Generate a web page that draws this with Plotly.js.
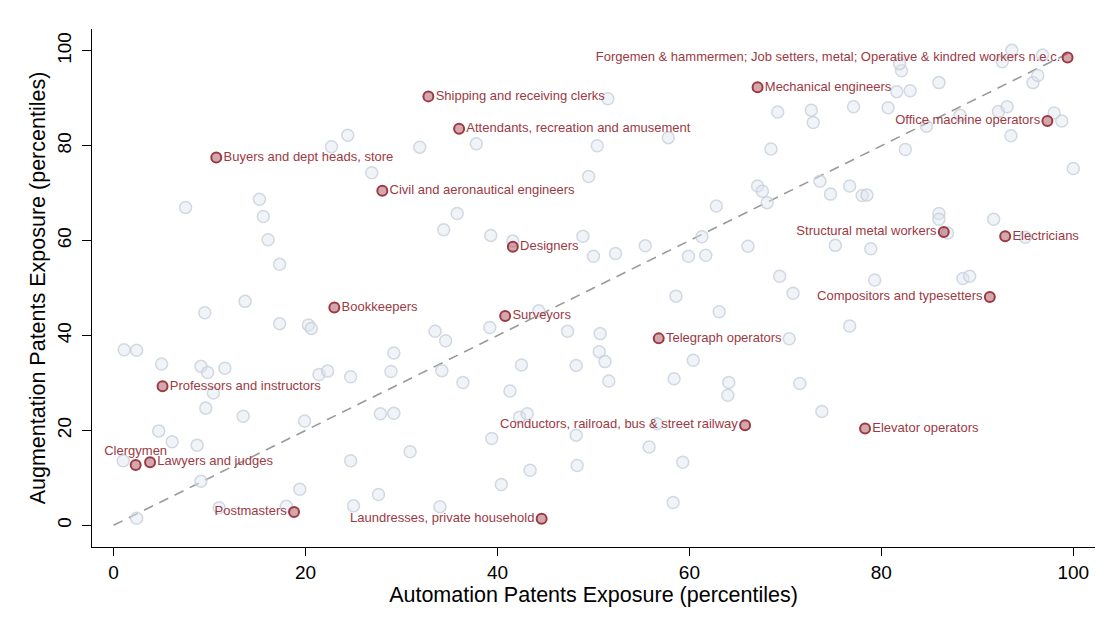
<!DOCTYPE html>
<html>
<head>
<meta charset="utf-8">
<script src="https://cdn.plot.ly/plotly-3.0.1.min.js"></script>
<style>html,body{margin:0;padding:0;background:#fff;}#chart{width:1109px;height:628px;}</style>
</head>
<body>
<div id="chart"></div>
<script>
// Background occupations (grey points)
const greyX = [7.5,15.2,15.6,16.1,17.3,22.7,24.4,26.9,51.5,31.9,37.8,50.4,57.8,49.5,35.8,34.4,39.3,41.6,48.9,50.0,52.3,55.4,59.9,61.7,61.3,62.8,66.1,69.2,68.5,67.1,67.6,68.1,72.7,72.9,77.1,80.7,81.6,83.0,82.1,81.9,86.0,73.6,76.7,74.7,78.0,78.5,82.5,84.7,88.2,92.2,93.1,93.5,98.0,98.8,93.6,92.6,96.8,95.8,96.3,100.0,86.9,86.0,86.0,91.7,95.0,75.2,78.9,69.4,79.3,88.5,89.2,70.8,76.7,70.4,71.5,73.8,58.6,63.1,44.3,33.5,34.6,39.2,47.3,50.7,29.2,28.9,34.2,36.4,42.5,48.2,50.6,51.2,51.6,60.4,58.4,64.1,64.0,41.3,27.8,29.2,42.3,43.1,56.6,48.2,39.4,55.8,30.9,59.3,43.4,48.3,40.4,58.3,34.0,27.6,1.1,2.4,5.0,9.1,9.8,11.6,9.5,13.7,17.3,20.3,20.6,21.4,22.3,24.7,10.4,9.6,13.5,4.7,6.1,8.7,19.9,1.0,9.1,24.7,19.4,11.0,18.0,2.4,25.0];
const greyY = [67.0,68.7,65.1,60.2,55.0,79.8,82.2,74.3,89.9,79.7,80.4,80.0,81.7,73.5,65.7,62.3,61.1,59.9,60.9,56.7,57.3,58.9,56.7,56.9,60.8,67.3,58.8,87.1,79.3,71.5,70.4,68.0,87.5,84.9,88.2,88.0,91.4,91.6,95.8,97.3,93.3,72.5,71.5,69.8,69.5,69.6,79.2,84.1,86.4,87.2,88.2,82.1,86.9,85.2,100.1,97.7,99.1,93.3,94.8,75.2,61.6,65.7,64.5,64.5,60.7,59.0,58.3,52.5,51.7,52.0,52.5,48.9,42.0,39.3,29.9,24.0,48.3,45.0,45.2,40.9,38.9,41.7,40.9,40.4,36.3,32.4,32.6,30.1,33.8,33.7,36.6,34.5,30.4,34.8,30.9,30.1,27.4,28.3,23.5,23.6,22.8,23.5,21.4,19.0,18.3,16.5,15.5,13.3,11.6,12.6,8.6,4.8,3.9,6.5,37.0,36.9,34.0,33.5,32.2,33.1,44.8,47.2,42.5,42.2,41.5,31.8,32.5,31.3,27.9,24.7,23.0,19.9,17.6,16.9,22.0,13.6,9.3,13.6,7.6,3.7,4.0,1.5,4.1];

// Highlighted occupations
const labNames = [
  "Forgemen & hammermen; Job setters, metal; Operative & kindred workers n.e.c.",
  "Mechanical engineers",
  "Shipping and receiving clerks",
  "Attendants, recreation and amusement",
  "Office machine operators",
  "Buyers and dept heads, store",
  "Civil and aeronautical engineers",
  "Structural metal workers",
  "Electricians",
  "Designers",
  "Compositors and typesetters",
  "Bookkeepers",
  "Surveyors",
  "Telegraph operators",
  "Professors and instructors",
  "Conductors, railroad, bus & street railway",
  "Elevator operators",
  "Clergymen",
  "Lawyers and judges",
  "Postmasters",
  "Laundresses, private household"
];
const labX = [99.4,67.1,32.8,36.0,97.3,10.7,28.0,86.5,92.9,41.6,91.3,23.0,40.8,56.8,5.1,65.8,78.3,2.3,3.8,18.8,44.6];
const labY = [98.6,92.3,90.4,83.6,85.2,77.5,70.5,61.8,60.9,58.7,48.1,45.9,44.1,39.4,29.3,21.1,20.4,12.7,13.3,2.8,1.4];
const labPos = ["middle left","middle right","middle right","middle right","middle left","middle right","middle right","middle left","middle right","middle right","middle left","middle right","middle right","middle right","middle right","middle left","middle right","top center","middle right","middle left","middle left"];

const diagX = [0, 100];
const diagY = [0, 100];

const tickVals = [0, 20, 40, 60, 80, 100];

const font = "Liberation Sans, Arial, Helvetica, sans-serif";
const red = "#9c3a44";

const traces = [
  {
    x: diagX, y: diagY, type: "scatter", mode: "lines",
    line: {color: "#9a9a9a", width: 1.6, dash: "10px,7px"},
    hoverinfo: "skip", showlegend: false
  },
  {
    x: greyX, y: greyY, type: "scatter", mode: "markers",
    marker: {size: 12, color: "rgba(222,229,237,0.45)", line: {color: "rgba(196,206,218,0.75)", width: 1.5}},
    showlegend: false
  },
  {
    x: labX, y: labY, text: labNames, type: "scatter", mode: "markers+text",
    textposition: labPos,
    textfont: {family: font, size: 13, color: red},
    marker: {size: 10, color: "rgba(160,60,72,0.45)", line: {color: red, width: 2}},
    showlegend: false, cliponaxis: false
  }
];

const layout = {
  width: 1109, height: 628,
  margin: {l: 92, r: 14, t: 29, b: 81},
  paper_bgcolor: "#ffffff", plot_bgcolor: "#ffffff",
  font: {family: font, color: "#000"},
  showlegend: false,
  xaxis: {
    range: [-2.25, 102.26], tickvals: tickVals, ticktext: tickVals.map(String),
    showgrid: false, zeroline: false, showline: true, linecolor: "#000", linewidth: 1,
    ticks: "outside", ticklen: 8, tickcolor: "#000", tickwidth: 1,
    tickfont: {family: font, size: 19, color: "#000"},
    title: {text: "Automation Patents Exposure (percentiles)", font: {family: font, size: 21.5, color: "#000"}, standoff: 3},
    automargin: false
  },
  yaxis: {
    range: [-4.57, 104.6], tickvals: tickVals, ticktext: tickVals.map(String),
    tickangle: -90, ticklabelstandoff: 3,
    showgrid: false, zeroline: false, showline: true, linecolor: "#000", linewidth: 1,
    ticks: "outside", ticklen: 9, tickcolor: "#000", tickwidth: 1,
    tickfont: {family: font, size: 19, color: "#000"},
    title: {text: "Augmentation Patents Exposure (percentiles)", font: {family: font, size: 21.5, color: "#000"}, standoff: 2},
    automargin: false
  }
};

Plotly.newPlot("chart", traces, layout, {displayModeBar: false, staticPlot: true});
</script>
</body>
</html>
